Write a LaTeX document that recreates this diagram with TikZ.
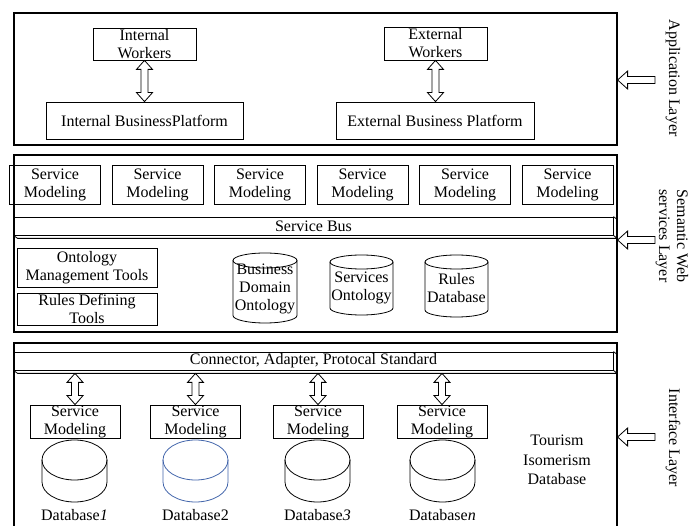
\documentclass[tikz,border=0pt]{standalone}
\usepackage{fontspec}
\setmainfont{Liberation Serif}
\usetikzlibrary{calc}

\definecolor{dbblue}{RGB}{65,100,170}

\begin{document}
\begin{tikzpicture}[x=1pt,y=1pt,font=\fontsize{16}{18}\selectfont,
  box/.style={draw,line width=0.8pt,inner sep=0pt,align=center},
  layer/.style={draw,line width=1.2pt,inner sep=0pt},
  bar/.style={box,minimum width=599pt,minimum height=18pt},
  dblarrow/.style={line width=0.8pt,to path={let \p1=(\tikztostart),\p2=(\tikztotarget) in
    (\x1,\y1) -- ({\x1+8pt},{\y1-9pt}) -- ({\x1+3.5pt},{\y1-9pt}) -- ({\x1+3.5pt},{\y2+9pt})
    -- ({\x1+8pt},{\y2+9pt}) -- (\x1,\y2) -- ({\x1-8pt},{\y2+9pt}) -- ({\x1-3.5pt},{\y2+9pt})
    -- ({\x1-3.5pt},{\y1-9pt}) -- ({\x1-8pt},{\y1-9pt}) -- cycle}},
  sglarrow/.style={line width=0.8pt,to path={let \p1=(\tikztostart),\p2=(\tikztotarget) in
    (\x2,\y1) -- ({\x2+10pt},{\y1+9pt}) -- ({\x2+10pt},{\y1+3.5pt}) -- (\x1,{\y1+3.5pt})
    -- (\x1,{\y1-3.5pt}) -- ({\x2+10pt},{\y1-3.5pt}) -- ({\x2+10pt},{\y1-9pt}) -- cycle}}]
\useasboundingbox (0,0) rectangle (691,-526);

\node[layer,minimum width=603pt,minimum height=132pt] (app) at (315.5,-79) {};
\node[layer,minimum width=603pt,minimum height=177pt] (sem) at (315.5,-243.5) {};
\node[layer,minimum width=603pt,minimum height=200pt] (intf) at (315.5,-443) {};

\node[box,minimum width=103pt,minimum height=32pt] (iw) at (144.5,-44) {Internal\\Workers};
\node[box,minimum width=103pt,minimum height=33pt] (ew) at (435.5,-43.5) {External\\Workers};
\node[box,minimum width=197pt,minimum height=37pt] (ibp) at (144.5,-120.5) {Internal BusinessPlatform};
\node[box,minimum width=198pt,minimum height=37pt] (ebp) at (435,-120.5) {External Business Platform};
\draw[dblarrow] (iw.south) to (ibp.north);
\draw[dblarrow] (ew.south) to (ebp.north);

\foreach \i in {1,...,6}
  \node[box,minimum width=91pt,minimum height=39pt] (sm\i) at ({55+102.5*(\i-1)},-184.5) {Service\\Modeling};

\node[bar] (sbus) at (313.5,-226) {Service Bus};
\draw[line width=0.8pt] (sbus.south west) -- ++(4,-3) -- ($(sbus.south east)+(4,-3)$)
  -- ($(sbus.north east)+(4,-3)$) -- (sbus.north east) (sbus.south east) -- ++(4,-3);

\node[box,minimum width=140pt,minimum height=39pt] (omt) at (87,-267.5) {Ontology\\Management Tools};
\node[box,minimum width=140pt,minimum height=32pt] (rdt) at (87,-309) {Rules Defining\\Tools};

\foreach \cx/\yt/\yb/\rx/\ry in {265/-260.5/-315.5/32/7.5,361.5/-262/-308/31.5/7,456.5/-262/-310/31.5/7}
{
  \draw[line width=0.8pt] (\cx,\yt) ellipse [x radius=\rx, y radius=\ry];
  \draw[line width=0.8pt] ({\cx-\rx},\yt) -- ({\cx-\rx},\yb)
    arc [start angle=180, end angle=360, x radius=\rx, y radius=\ry] -- ({\cx+\rx},\yt);
}
\node[align=center] (bdo) at (265,-289) {Business\\Domain\\Ontology};
\node[align=center] (so) at (361.5,-288) {Services\\Ontology};
\node[align=center] (rdb) at (456.5,-288) {Rules\\Database};

\node[bar] (cbar) at (313.5,-361) {Connector, Adapter, Protocal Standard};
\draw[line width=0.8pt] (cbar.south west) -- ++(4,-3) -- ($(cbar.south east)+(4,-3)$)
  -- ($(cbar.north east)+(4,-3)$) -- (cbar.north east) (cbar.south east) -- ++(4,-3);

\foreach \i/\cx in {1/75,2/195.5,3/318,4/442}
{
  \node[box,minimum width=90pt,minimum height=33pt] (ism\i) at (\cx,-421.5) {Service\\Modeling};
  \draw[dblarrow] ($(ism\i.north |- cbar.south)+(0,-3)$) to (ism\i.north);
}

\foreach \cx/\col in {74.5/black,195.5/dbblue,317.5/black,442.5/black}
{
  \draw[line width=0.8pt,\col] (\cx,-460) ellipse [x radius=32.5, y radius=20];
  \draw[line width=0.8pt,\col] ({\cx-32.5},-460) -- ({\cx-32.5},-482)
    arc [start angle=180, end angle=360, x radius=32.5, y radius=20] -- ({\cx+32.5},-460);
}
\node (db1) at (74.5,-515) {Database\textit{1}};
\node (db2) at (195.5,-515) {Database2};
\node (db3) at (317.5,-515) {Database\textit{3}};
\node (dbn) at (442.5,-515) {Database\textit{n}};
\node[align=center,font=\fontsize{16}{19.5}\selectfont] (tid) at (557,-460) {Tourism\\Isomerism\\Database};

\coordinate (appin) at (655,-80);
\coordinate (semin) at (655,-240);
\coordinate (intin) at (655,-437);
\draw[sglarrow] (appin) to (appin -| app.east);
\draw[sglarrow] (semin) to (semin -| sem.east);
\draw[sglarrow] (intin) to (intin -| intf.east);

\node[rotate=-90] (applbl) at (673,-78) {Application Layer};
\node[rotate=-90,align=center] (semlbl) at (672,-236) {Semantic Web\\services Layer};
\node[rotate=-90] (intlbl) at (673,-438) {Interface Layer};
\end{tikzpicture}
\end{document}
